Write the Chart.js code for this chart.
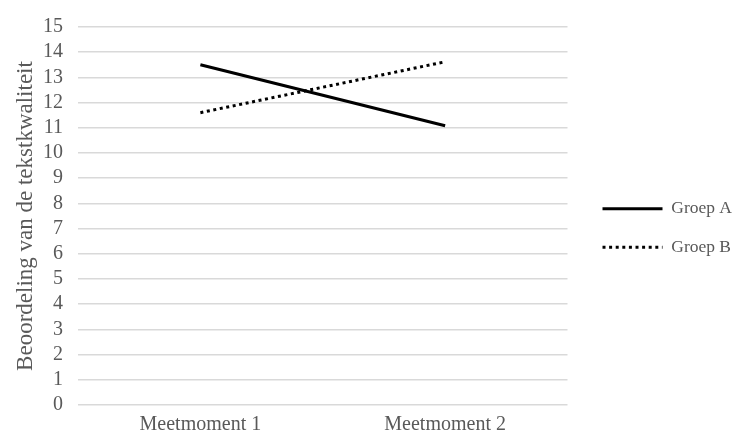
<!DOCTYPE html>
<html>
<head>
<meta charset="utf-8">
<script src="https://cdn.jsdelivr.net/npm/chart.js@4"></script>
<style>
  html, body { margin: 0; padding: 0; background: #fff; }
  .chart-container { width: 750px; height: 432px; }
</style>
</head>
<body>
<div class="chart-container">
  <canvas id="teksten-chart" width="750" height="432"></canvas>
</div>
<script>
const momenten = ['Meetmoment 1', 'Meetmoment 2'];
const groepA = [13.5, 11.08];
const groepB = [11.6, 13.62];

const fontFam = '"Liberation Serif", "Times New Roman", serif';
const grijs = '#595959';

// push the legend a bit to the right after layout, so the plot can stay narrower
const legendShift = {
  id: 'legendShift',
  afterLayout(chart) {
    const lg = chart.legend;
    if (lg) {
      lg.left += 14;
      lg.right += 14;
    }
  },
};

const ctx = document.getElementById('teksten-chart').getContext('2d');

new Chart(ctx, {
  type: 'line',
  data: {
    labels: momenten,
    datasets: [
      {
        label: 'Groep A',
        data: groepA,
        borderColor: '#000',
        backgroundColor: '#000',
        borderWidth: 3,
        pointRadius: 0,
        fill: false,
      },
      {
        label: 'Groep B',
        data: groepB,
        borderColor: '#000',
        backgroundColor: '#000',
        borderWidth: 3,
        borderDash: [3, 3.6],
        pointRadius: 0,
        fill: false,
      },
    ],
  },
  plugins: [legendShift],
  options: {
    responsive: false,
    animation: false,
    maintainAspectRatio: false,
    layout: { padding: { top: 24, bottom: 0, left: 9, right: 22 } },
    plugins: {
      tooltip: { enabled: false },
      legend: {
        position: 'right',
        labels: {
          color: grijs,
          font: { family: fontFam, size: 17.5 },
          usePointStyle: true,
          pointStyle: 'line',
          pointStyleWidth: 60,
          padding: 21,
          // legend line gets the dataset's own width and dash
          generateLabels: (chart) => chart.data.datasets.map((ds, i) => ({
            text: ds.label,
            datasetIndex: i,
            strokeStyle: ds.borderColor,
            fillStyle: ds.borderColor,
            lineWidth: ds.borderWidth,
            lineDash: ds.borderDash || [],
            pointStyle: 'line',
            fontColor: grijs,
            hidden: false,
          })),
        },
      },
    },
    scales: {
      x: {
        offset: true,
        grid: { display: false, drawTicks: false },
        border: { display: false },
        ticks: { color: grijs, font: { family: fontFam, size: 20 }, padding: 8, maxRotation: 0 },
        afterFit: (scale) => { scale.height = 27; },
      },
      y: {
        min: 0,
        max: 15,
        grid: { color: '#d9d9d9', lineWidth: 1.5, drawTicks: false },
        border: { display: false },
        ticks: { stepSize: 1, autoSkip: false, color: grijs, font: { family: fontFam, size: 20 }, padding: 15 },
        title: {
          display: true,
          text: 'Beoordeling van de tekstkwaliteit',
          color: grijs,
          font: { family: fontFam, size: 23 },
          padding: 3,
        },
        afterFit: (scale) => { scale.width = 69; },
      },
    },
  },
});
</script>
</body>
</html>
